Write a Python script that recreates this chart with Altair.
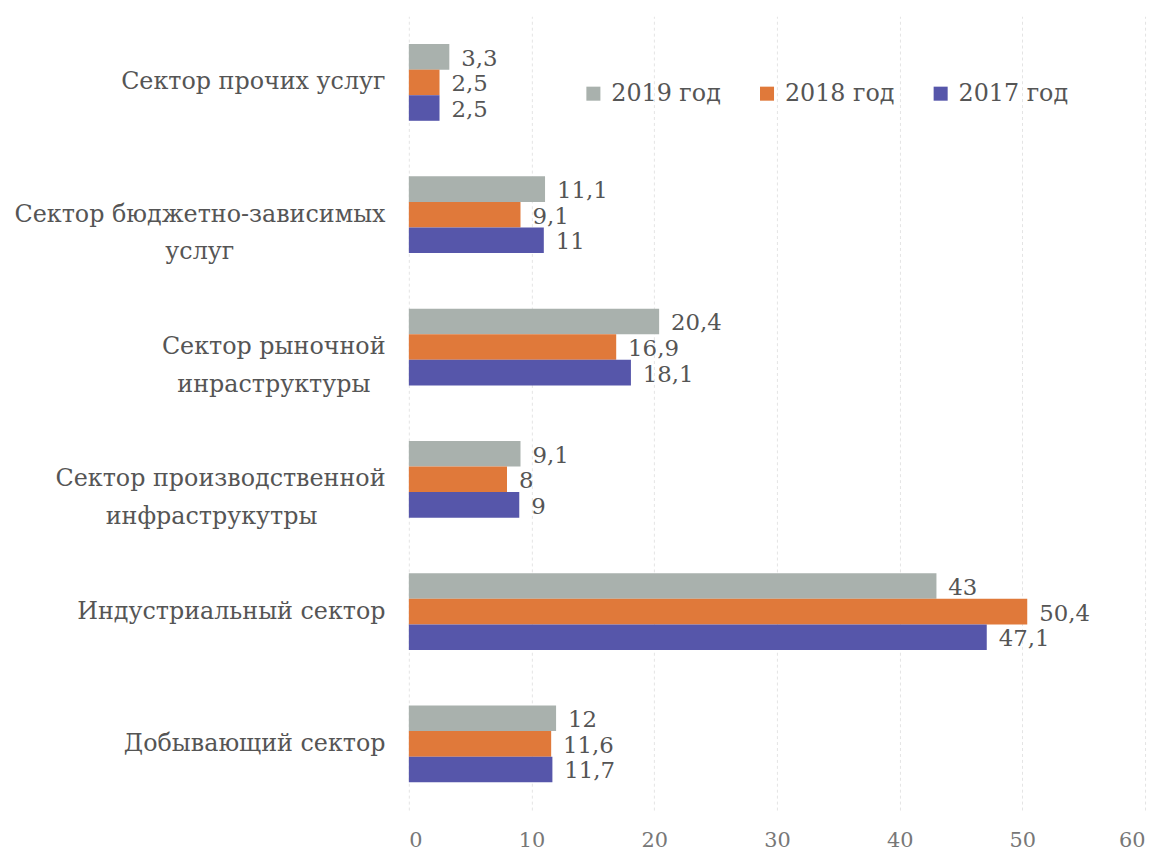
import altair as alt
import pandas as pd

categories = [
    "Сектор прочих услуг",
    "Сектор бюджетно-зависимых|услуг",
    "Сектор рыночной|инраструктуры",
    "Сектор производственной|инфраструкутры",
    "Индустриальный сектор",
    "Добывающий сектор",
]
series = ["2019 год", "2018 год", "2017 год"]
v2019 = [3.3, 11.1, 20.4, 9.1, 43, 12]
v2018 = [2.5, 9.1, 16.9, 8, 50.4, 11.6]
v2017 = [2.5, 11, 18.1, 9, 47.1, 11.7]
colors = ["#a9b1ad", "#e0793a", "#5656aa"]


def fmt(v):
    if float(v).is_integer():
        return str(int(v))
    return str(v).replace(".", ",")


rows = []
for s, vals in zip(series, [v2019, v2018, v2017]):
    for c, v in zip(categories, vals):
        rows.append({"cat": c, "series": s, "value": v, "label": fmt(v)})
df = pd.DataFrame(rows)

font = "DejaVu Serif"

# second line of a two-line label is centred under the first one
label_expr = (
    "length(split(datum.label, '|')) > 1 ? "
    "[split(datum.label, '|')[0], pad(split(datum.label, '|')[1], "
    "length(split(datum.label, '|')[0]), '\u00a0', 'right') + '\u200b'] : datum.label"
)

y_enc = alt.Y(
    "cat:N",
    sort=categories,
    scale=alt.Scale(paddingInner=0.42, paddingOuter=0.21),
    axis=alt.Axis(
        title=None,
        labelExpr=label_expr,
        labelFont=font,
        labelFontSize=24,
        labelColor="#555555",
        labelLineHeight=38,
        labelPadding=24,
        ticks=False,
        domain=False,
        labelLimit=500,
    ),
)
yoff = alt.YOffset("series:N", sort=series)

bars = alt.Chart(df).mark_bar().encode(
    x=alt.X(
        "value:Q",
        scale=alt.Scale(domain=[0, 60], nice=False),
        axis=alt.Axis(
            title=None,
            values=[0, 10, 20, 30, 40, 50, 60],
            labelFont=font,
            labelFontSize=21,
            labelColor="#777777",
            ticks=False,
            domain=False,
            labelPadding=20,
            grid=True,
            gridColor="#e4e4e4",
            gridDash=[3, 3],
            gridWidth=1,
        ),
    ),
    y=y_enc,
    yOffset=yoff,
    color=alt.Color(
        "series:N",
        sort=series,
        scale=alt.Scale(domain=series, range=colors),
        legend=alt.Legend(
            title=None,
            orient="none",
            legendX=174,
            legendY=66,
            direction="horizontal",
            columns=3,
            symbolType="square",
            symbolSize=200,
            symbolStrokeWidth=0,
            labelFont=font,
            labelFontSize=24,
            labelColor="#555555",
            columnPadding=34,
            labelOffset=6,
        ),
    ),
)

labels = alt.Chart(df).mark_text(
    align="left", baseline="middle", dx=12, dy=2, font=font, fontSize=23, color="#555555"
).encode(
    x="value:Q",
    y=alt.Y("cat:N", sort=categories),
    yOffset=yoff,
    text="label:N",
)

chart = (
    alt.layer(bars, labels)
    .properties(width=742, height=800, background="white")
    .configure_view(stroke=None)
)

chart.save("out.html", embed_options={"renderer": "svg", "actions": False})
